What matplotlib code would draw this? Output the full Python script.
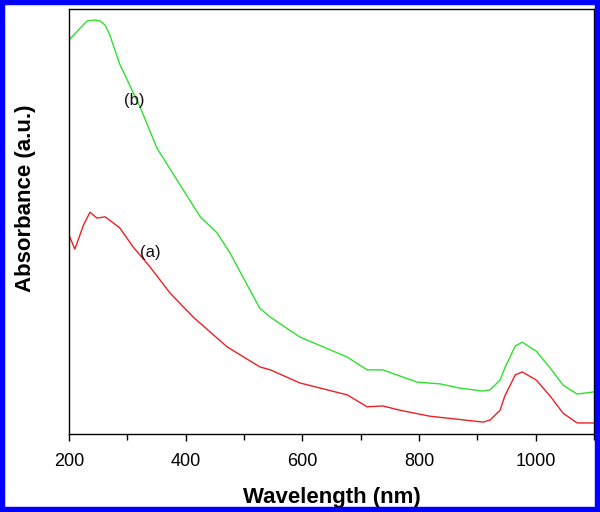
import matplotlib
matplotlib.use("Agg")
import matplotlib.pyplot as plt
from matplotlib.patches import Rectangle
from matplotlib.ticker import MultipleLocator

plt.rcParams['font.family'] = ['Liberation Sans', 'DejaVu Sans']

# Curve (b), green
wl_b = [200, 231, 245, 253, 262, 270, 287, 322, 351, 385, 425, 454, 476, 510, 527,
        545, 596, 677, 711, 738, 762, 797, 836, 870, 910, 922, 939, 947, 965, 977,
        1001, 1025, 1047, 1071, 1100]
abs_b = [0.927, 0.972, 0.974, 0.972, 0.962, 0.939, 0.870, 0.769, 0.672, 0.598, 0.511,
         0.473, 0.426, 0.339, 0.296, 0.275, 0.228, 0.181, 0.151, 0.151, 0.139, 0.122,
         0.118, 0.108, 0.101, 0.104, 0.127, 0.155, 0.207, 0.216, 0.195, 0.155, 0.115,
         0.094, 0.099]

# Curve (a), red
wl_a = [200, 210, 225, 236, 248, 262, 287, 310, 339, 373, 413, 471, 527, 545, 596,
        677, 711, 738, 767, 818, 864, 910, 922, 939, 947, 965, 977, 1001, 1025, 1047,
        1071, 1100]
abs_a = [0.468, 0.435, 0.492, 0.522, 0.508, 0.511, 0.485, 0.440, 0.393, 0.332, 0.275,
         0.205, 0.158, 0.151, 0.120, 0.092, 0.064, 0.066, 0.056, 0.042, 0.035, 0.028,
         0.033, 0.056, 0.089, 0.139, 0.146, 0.127, 0.089, 0.049, 0.026, 0.026]

xticks = [200, 400, 600, 800, 1000]

fig = plt.figure(figsize=(6.0, 5.12), dpi=100)
ax = fig.add_axes([69/600, 1-434/512, (594-69)/600, (434-9)/512])

ax.plot(wl_b, abs_b, color='#2fe02f', lw=1.0)
ax.plot(wl_a, abs_a, color='#ec2027', lw=1.0)

ax.text(312, 0.785, '(b)', fontsize=12, ha='center', va='center', color='#111111')
ax.text(340, 0.427, '(a)', fontsize=12, ha='center', va='center', color='#111111')

ax.set_xlim(200, 1100)
ax.set_ylim(0, 1)
ax.set_xticks(xticks)
ax.xaxis.set_minor_locator(MultipleLocator(100))
ax.set_yticks([])
ax.tick_params(axis='x', which='major', direction='out', length=5, width=1,
               labelsize=13, pad=9)
ax.tick_params(axis='x', which='minor', direction='out', length=4, width=1)
for s in ax.spines.values():
    s.set_linewidth(1.0)

ax.set_xlabel('Wavelength (nm)', fontsize=16, fontweight='bold', labelpad=12)
ax.set_ylabel('Absorbance (a.u.)', fontsize=16, fontweight='bold', labelpad=24, y=0.555)

fig.patches.append(Rectangle((0, 0), 1, 1, transform=fig.transFigure,
                             fill=False, edgecolor='#0000ff', linewidth=7.5,
                             zorder=10))

fig.savefig('out.png', dpi=100)
